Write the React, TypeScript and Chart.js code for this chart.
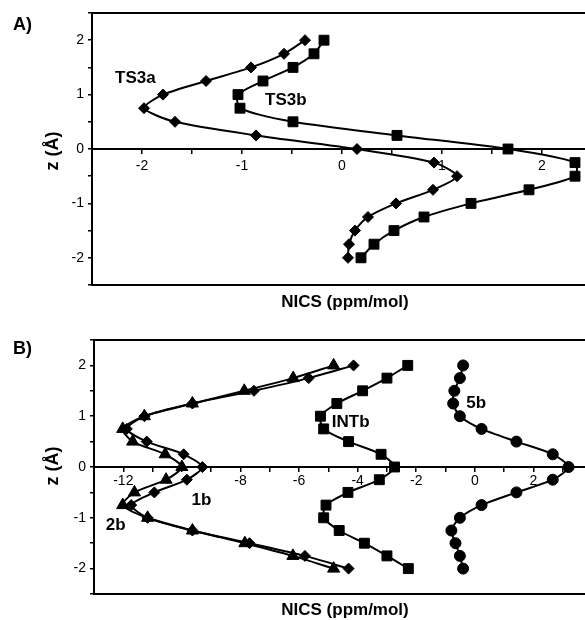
import React, { useEffect, useRef } from 'react';
import { Chart, registerables } from 'chart.js';
Chart.register(...registerables);

// z positions (Å) shared by all series
const zLevels = [2, 1.75, 1.5, 1.25, 1, 0.75, 0.5, 0.25, 0, -0.25, -0.5, -0.75, -1, -1.25, -1.5, -1.75, -2];

// Panel A – NICS (ppm/mol)
const ts3a = [-0.37, -0.58, -0.91, -1.36, -1.79, -1.98, -1.67, -0.86, 0.15, 0.92, 1.15, 0.91, 0.54, 0.26, 0.13, 0.07, 0.06];
const ts3b = [-0.18, -0.28, -0.49, -0.79, -1.04, -1.02, -0.49, 0.55, 1.66, 2.33, 2.33, 1.87, 1.29, 0.82, 0.52, 0.32, 0.19];

// Panel B – NICS (ppm/mol)
const nics1b = [-4.14, -5.67, -7.54, -9.64, -11.28, -11.88, -11.2, -9.94, -9.3, -9.83, -10.94, -11.73, -11.17, -9.64, -7.69, -5.8, -4.31];
const nics2b = [-4.82, -6.2, -7.87, -9.64, -11.28, -12.02, -11.68, -10.57, -10.0, -10.54, -11.62, -12.02, -11.17, -9.64, -7.85, -6.21, -4.82];
const nicsINTb = [-2.29, -3.0, -3.83, -4.71, -5.27, -5.16, -4.31, -3.2, -2.74, -3.26, -4.33, -5.08, -5.16, -4.63, -3.77, -3.0, -2.27];
const nics5b = [-0.4, -0.51, -0.7, -0.74, -0.51, 0.23, 1.42, 2.66, 3.2, 2.66, 1.42, 0.23, -0.51, -0.8, -0.66, -0.51, -0.4];

// tick labels
const xLabelsA = [-2, -1, 0, 1, 2];
const xLabelsB = [-12, -8, -6, -4, -2, 0, 2];
const zLabels = [-2, -1, 0, 1, 2];

const FONT = "'Liberation Sans', Arial, sans-serif";

const toPts = (xs: number[]) => xs.map((x, i) => ({ x, y: zLevels[i] }));

const ds = (xs: number[], style: string, radius: number) => ({
  data: toPts(xs),
  showLine: true,
  borderColor: '#000',
  backgroundColor: '#000',
  borderWidth: 2,
  pointStyle: style,
  pointRadius: radius,
  pointHoverRadius: radius,
  pointBorderWidth: 1,
  pointBorderColor: '#000',
  pointBackgroundColor: '#000',
  tension: 0.25,
});

type Lbl = { text: string; x: number; z: number };

function decor(panel: string, panelY: number, titleY: number, zTitleY: number, labels: Lbl[]) {
  return {
    id: 'decor',
    afterDatasetsDraw(chart: any) {
      const ctx = chart.ctx;
      const xs = chart.scales.x;
      const ys = chart.scales.y;
      ctx.save();
      ctx.fillStyle = '#000';
      ctx.font = `bold 17px ${FONT}`;
      ctx.textAlign = 'left';
      ctx.textBaseline = 'middle';
      labels.forEach((l) => ctx.fillText(l.text, xs.getPixelForValue(l.x), ys.getPixelForValue(l.z)));
      ctx.restore();
    },
    afterDraw(chart: any) {
      const ctx = chart.ctx;
      const a = chart.chartArea;
      ctx.save();
      ctx.strokeStyle = '#000';
      ctx.lineWidth = 2;
      ctx.strokeRect(a.left, a.top, a.right - a.left, a.bottom - a.top);
      ctx.fillStyle = '#000';
      ctx.font = `bold 17px ${FONT}`;
      ctx.textAlign = 'center';
      ctx.textBaseline = 'middle';
      ctx.fillText('NICS (ppm/mol)', 345, titleY);
      ctx.save();
      ctx.translate(53, zTitleY);
      ctx.rotate(-Math.PI / 2);
      ctx.font = `bold 18px ${FONT}`;
      ctx.fillText('z (Å)', 0, 0);
      ctx.restore();
      ctx.font = `bold 18px ${FONT}`;
      ctx.textAlign = 'left';
      ctx.fillText(panel, 13, panelY);
      ctx.restore();
    },
  };
}

function makeOptions(xmin: number, xmax: number, xstep: number, xLabels: number[], yWidth: number, pad: any, xPad: number) {
  return {
    responsive: false,
    animation: false,
    events: [],
    layout: { padding: pad },
    plugins: { legend: { display: false }, tooltip: { enabled: false } },
    scales: {
      x: {
        type: 'linear',
        position: { y: 0 },
        min: xmin,
        max: xmax,
        border: { display: true, color: '#000', width: 2 },
        grid: { display: true, drawOnChartArea: false, drawTicks: true, tickLength: 4, color: '#000', lineWidth: 1.5 },
        ticks: {
          stepSize: xstep,
          autoSkip: false,
          maxRotation: 0,
          padding: xPad,
          color: '#000',
          font: { family: FONT, size: 14 },
          callback: (v: number) => (xLabels.includes(v) ? String(v) : ''),
        },
      },
      y: {
        type: 'linear',
        position: 'left',
        min: -2.5,
        max: 2.5,
        afterFit: (s: any) => {
          s.width = yWidth;
        },
        border: { display: true, color: '#000', width: 2 },
        grid: { display: true, drawOnChartArea: false, drawTicks: true, tickLength: 4, color: '#000', lineWidth: 1.5 },
        ticks: {
          stepSize: 0.5,
          autoSkip: false,
          padding: 4,
          color: '#000',
          font: { family: FONT, size: 14 },
          callback: (v: number) => (zLabels.includes(v) ? String(v) : ''),
        },
      },
    },
  };
}

export default function App() {
  const refA = useRef<HTMLCanvasElement>(null);
  const refB = useRef<HTMLCanvasElement>(null);

  useEffect(() => {
    const chartA = new Chart(refA.current as HTMLCanvasElement, {
      type: 'scatter',
      data: {
        datasets: [ds(ts3a, 'rectRot', 5.5), ds(ts3b, 'rect', 7)] as any,
      },
      options: makeOptions(-2.5, 2.5, 0.5, xLabelsA, 92, { top: 13, right: 7, bottom: 30, left: 0 }, 5) as any,
      plugins: [
        decor('A)', 25, 302, 151, [
          { text: 'TS3a', x: -2.27, z: 1.3 },
          { text: 'TS3b', x: -0.77, z: 0.9 },
        ]),
      ],
    });
    const chartB = new Chart(refB.current as HTMLCanvasElement, {
      type: 'scatter',
      data: {
        datasets: [
          ds(nics1b, 'rectRot', 5.5),
          ds(nics2b, 'triangle', 7),
          ds(nicsINTb, 'rect', 7),
          ds(nics5b, 'circle', 5.5),
        ] as any,
      },
      options: makeOptions(-13, 4, 1, xLabelsB, 94, { top: 30, right: 6, bottom: 26, left: 0 }, 2) as any,
      plugins: [
        decor('B)', 39, 300, 156, [
          { text: '1b', x: -9.67, z: -0.65 },
          { text: '2b', x: -12.6, z: -1.14 },
          { text: 'INTb', x: -4.88, z: 0.87 },
          { text: '5b', x: -0.29, z: 1.26 },
        ]),
      ],
    });
    return () => {
      chartA.destroy();
      chartB.destroy();
    };
  }, []);

  return (
    <div style={{ position: 'absolute', left: 0, top: 0, width: 585, height: 620, overflow: 'hidden', background: '#fff' }}>
      <canvas ref={refA} width={600} height={315} style={{ position: 'absolute', left: 0, top: 0, display: 'block' }} />
      <canvas ref={refB} width={600} height={310} style={{ position: 'absolute', left: 0, top: 310, display: 'block' }} />
    </div>
  );
}
